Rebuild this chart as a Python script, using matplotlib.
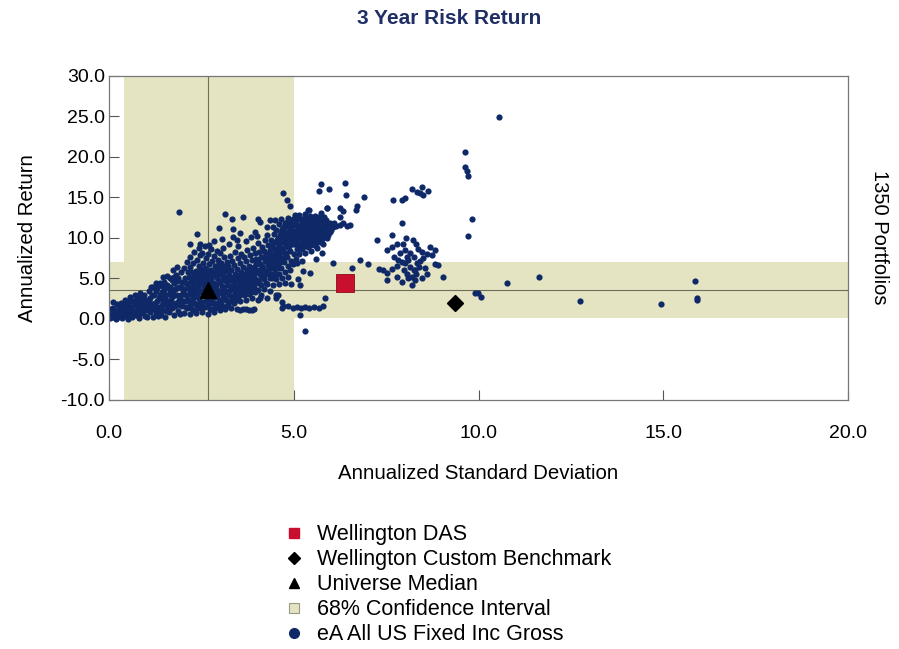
import numpy as np
import matplotlib
matplotlib.use("Agg")
import matplotlib.pyplot as plt
from matplotlib.lines import Line2D

plt.rcParams['font.family'] = ['Liberation Sans', 'DejaVu Sans']

# universe scatter (std dev, return)
low_risk = [
    (0.02, 0.1), (0.05, 0.5), (0.08, 0.9), (0.1, 0.2), (0.12, 1.4), (0.15, 0.6), (0.18, 0.0), (0.2, 1.0),
    (0.22, 1.8), (0.25, 0.3), (0.28, 0.7), (0.3, 1.3), (0.33, 2.0), (0.35, 0.1), (0.38, 0.9), (0.4, 1.6),
    (0.42, 2.4), (0.45, 0.4), (0.48, 1.2), (0.5, 2.0), (0.52, 0.0), (0.55, 0.8), (0.57, 2.7), (0.6, 1.5),
    (0.62, 0.3), (0.65, 2.2), (0.68, 1.0), (0.7, 3.0), (0.72, 0.5), (0.75, 1.8), (0.78, 2.6), (0.8, 0.1),
    (0.82, 1.3), (0.85, 3.2), (0.87, 0.7), (0.9, 2.2), (0.92, 1.6), (0.95, 2.9), (0.97, 0.4), (1.0, 1.1),
    (0.1, 2.1), (0.03, 1.2),
    (1.02, 0.3), (1.05, 1.9), (1.08, 3.5), (1.1, 0.9), (1.12, 2.6), (1.15, 1.4), (1.18, 4.0), (1.2, 0.2),
    (1.22, 3.0), (1.25, 2.0), (1.27, 0.8), (1.3, 3.8), (1.32, 1.5), (1.35, 2.6), (1.37, 4.4), (1.4, 0.5),
    (1.42, 3.3), (1.45, 1.1), (1.47, 2.1), (1.5, 4.6), (1.52, 0.3), (1.55, 2.9), (1.57, 1.7), (1.6, 3.9),
    (1.62, 0.9), (1.65, 5.0), (1.67, 2.4), (1.7, 1.3), (1.72, 3.4), (1.75, 4.4), (1.77, 0.5), (1.8, 2.0),
    (1.82, 5.4), (1.85, 3.0), (1.87, 1.0), (1.9, 4.0), (1.92, 2.5), (1.95, 5.8), (1.97, 1.6), (2.0, 3.5),
    (1.03, 2.4), (1.13, 3.9), (1.23, 1.2), (1.33, 0.4), (1.43, 4.1), (1.53, 1.0), (1.63, 2.0), (1.73, 6.0),
    (1.83, 4.7), (1.93, 0.6), (1.58, 5.3), (1.48, 3.6), (1.38, 2.9), (1.28, 4.5), (1.68, 3.0), (1.78, 3.7),
    (1.88, 2.3), (1.98, 4.6), (1.46, 5.2), (1.85, 6.4), (1.89, 13.2),
    (0.06, 0.3), (0.14, 1.0), (0.21, 0.5), (0.27, 1.5), (0.32, 0.6), (0.37, 1.2), (0.44, 1.8), (0.47, 0.6),
    (0.53, 1.4), (0.58, 2.2), (0.63, 0.9), (0.67, 1.7), (0.73, 2.3), (0.77, 1.1), (0.81, 2.0), (0.86, 1.5),
    (0.89, 2.7), (0.93, 1.0), (0.98, 2.4), (0.96, 1.9),
    (1.06, 1.3), (1.11, 2.0), (1.16, 2.9), (1.21, 1.7), (1.26, 3.4), (1.31, 2.2), (1.36, 1.0), (1.41, 2.6),
    (1.44, 1.7), (1.49, 3.0), (1.54, 2.3), (1.59, 1.3), (1.64, 3.3), (1.69, 2.0), (1.74, 2.8), (1.79, 1.6),
    (1.84, 3.8), (1.89, 1.7), (1.94, 3.0), (1.99, 2.2), (1.56, 4.2), (1.71, 4.8), (1.86, 5.0), (1.96, 3.9),
    (1.66, 4.0), (1.76, 5.2),
]

mid_risk = [
    (2.03, 0.8), (2.05, 2.2), (2.04, 3.7), (2.06, 5.1), (2.02, 6.3),
    (2.1, 1.4), (2.12, 2.9), (2.11, 4.3), (2.13, 5.8), (2.1, 7.0),
    (2.18, 0.6), (2.2, 2.0), (2.19, 3.4), (2.21, 4.8), (2.18, 6.4), (2.2, 7.6),
    (2.27, 1.1), (2.28, 2.6), (2.26, 4.0), (2.29, 5.3), (2.27, 6.9), (2.3, 8.3),
    (2.35, 0.7), (2.36, 1.9), (2.34, 3.2), (2.37, 4.6), (2.35, 5.9), (2.38, 7.3),
    (2.43, 1.3), (2.44, 2.5), (2.42, 3.9), (2.45, 5.2), (2.43, 6.5), (2.46, 7.9), (2.44, 8.8),
    (2.51, 0.9), (2.52, 2.1), (2.5, 3.3), (2.53, 4.5), (2.51, 5.7), (2.54, 6.9), (2.52, 8.2),
    (2.59, 1.5), (2.6, 2.8), (2.58, 4.0), (2.61, 5.2), (2.59, 6.3), (2.62, 7.5), (2.6, 9.0),
    (2.67, 0.6), (2.68, 1.9), (2.66, 3.1), (2.69, 4.4), (2.67, 5.6), (2.7, 6.8), (2.68, 8.0),
    (2.75, 1.2), (2.76, 2.4), (2.74, 3.7), (2.77, 4.9), (2.75, 6.1), (2.78, 7.2), (2.76, 8.6),
    (2.83, 0.9), (2.84, 2.0), (2.82, 3.2), (2.85, 4.3), (2.83, 5.5), (2.86, 6.6), (2.84, 7.8),
    (2.91, 1.5), (2.92, 2.7), (2.9, 3.8), (2.93, 5.0), (2.91, 6.1), (2.94, 7.3), (2.92, 8.4),
    (2.99, 1.1), (3.0, 2.3), (2.98, 3.5), (3.01, 4.6), (2.99, 5.8), (3.02, 6.9), (3.0, 8.1),
    (3.07, 1.6), (3.08, 2.9), (3.06, 4.1), (3.09, 5.3), (3.07, 6.4), (3.1, 7.6), (3.08, 8.8),
    (3.15, 1.2), (3.16, 2.3), (3.14, 3.5), (3.17, 4.7), (3.15, 5.9), (3.18, 7.0),
    (3.23, 1.8), (3.24, 3.0), (3.22, 4.2), (3.25, 5.4), (3.23, 6.5), (3.26, 7.8), (3.24, 9.3),
    (3.31, 1.4), (3.32, 2.5), (3.3, 3.7), (3.33, 4.8), (3.31, 6.0), (3.34, 7.2),
    (3.39, 2.0), (3.4, 3.2), (3.38, 4.4), (3.41, 5.6), (3.39, 6.7), (3.42, 8.3),
    (3.47, 1.2), (3.48, 2.7), (3.46, 3.9), (3.49, 5.1), (3.47, 6.2), (3.5, 7.5), (3.48, 9.0),
    (3.55, 2.2), (3.56, 3.4), (3.54, 4.6), (3.57, 5.8), (3.55, 6.9), (3.58, 8.0), (3.55, 1.1),
    (3.63, 1.2), (3.64, 2.9), (3.62, 4.1), (3.65, 5.3), (3.63, 6.4), (3.66, 7.6),
    (3.71, 2.4), (3.72, 3.6), (3.7, 4.8), (3.73, 6.0), (3.71, 7.1), (3.74, 8.5), (3.71, 1.2),
    (3.79, 1.1), (3.8, 3.1), (3.78, 4.3), (3.81, 5.5), (3.79, 6.6), (3.82, 7.9),
    (3.87, 2.6), (3.88, 3.8), (3.86, 5.0), (3.89, 6.2), (3.87, 7.3), (3.9, 8.8), (3.86, 1.1),
    (3.95, 3.3), (3.96, 4.5), (3.94, 5.7), (3.97, 6.8), (3.95, 8.1), (3.93, 1.2),
    (2.38, 10.5), (2.2, 9.2), (2.46, 9.3), (2.7, 9.1), (2.98, 11.2), (3.14, 13.0), (3.32, 12.4),
    (3.63, 12.6), (3.36, 11.1), (3.54, 10.6), (3.35, 10.1), (3.45, 9.75), (3.05, 9.9), (3.7, 9.6),
    (3.85, 10.1), (2.85, 9.6),
    (2.07, 1.5), (2.08, 3.0), (2.09, 4.5), (2.15, 2.3), (2.16, 3.8), (2.16, 5.2), (2.23, 1.4), (2.24, 2.9),
    (2.24, 4.4), (2.25, 5.8), (2.31, 2.0), (2.32, 3.5), (2.33, 4.9), (2.39, 1.3), (2.4, 2.7), (2.4, 4.2),
    (2.41, 5.5), (2.47, 2.0), (2.48, 3.4), (2.48, 4.8), (2.49, 6.2), (2.55, 1.5), (2.56, 2.9), (2.56, 4.2),
    (2.57, 5.6), (2.63, 2.2), (2.64, 3.5), (2.64, 4.8), (2.65, 6.0), (2.72, 1.2), (2.72, 2.8), (2.73, 4.2),
    (2.73, 5.4), (2.79, 2.0), (2.8, 3.3), (2.8, 4.5), (2.81, 5.8), (2.87, 1.4), (2.88, 2.7), (2.88, 4.0),
    (2.89, 5.3), (2.95, 2.0), (2.96, 3.2), (2.96, 4.4), (2.97, 5.5), (2.96, 6.7),
    (3.04, 2.0), (3.04, 3.4), (3.05, 4.8), (3.05, 6.0), (3.12, 2.6), (3.12, 4.0), (3.13, 5.2), (3.13, 6.6),
    (3.2, 1.6), (3.2, 3.3), (3.21, 4.8), (3.21, 6.0), (3.28, 2.2), (3.28, 3.6), (3.29, 4.9), (3.36, 2.8),
    (3.36, 4.2), (3.37, 5.2), (3.44, 2.3), (3.44, 3.6), (3.45, 4.8), (3.52, 3.0), (3.52, 4.1), (3.53, 5.4),
    (3.6, 3.6), (3.61, 4.8), (3.68, 3.1), (3.68, 4.3), (3.69, 5.6), (3.76, 3.8), (3.77, 5.0), (3.84, 3.3),
    (3.85, 4.6), (3.85, 5.8), (3.92, 4.0), (3.93, 5.2), (3.93, 6.4), (3.99, 4.8), (3.99, 6.0), (3.98, 7.4),
]

upper_risk = [
    (4.03, 2.3), (4.04, 3.6), (4.02, 4.8), (4.05, 6.0), (4.03, 7.1), (4.06, 8.3), (4.04, 9.4),
    (4.11, 3.0), (4.12, 4.2), (4.1, 5.4), (4.13, 6.6), (4.11, 7.7), (4.14, 8.9),
    (4.19, 3.7), (4.2, 4.9), (4.18, 6.1), (4.21, 7.2), (4.19, 8.4), (4.22, 9.7),
    (4.27, 2.6), (4.28, 4.3), (4.26, 5.5), (4.29, 6.7), (4.27, 7.8), (4.3, 9.1), (4.28, 10.4),
    (4.35, 3.5), (4.36, 5.0), (4.34, 6.2), (4.37, 7.3), (4.35, 8.5), (4.38, 9.8),
    (4.43, 4.2), (4.44, 5.6), (4.42, 6.8), (4.45, 7.9), (4.43, 9.2), (4.46, 10.5), (4.44, 11.4),
    (4.51, 3.0), (4.52, 4.9), (4.5, 6.2), (4.53, 7.4), (4.51, 8.6), (4.54, 9.8), (4.52, 11.0),
    (4.59, 4.3), (4.6, 5.6), (4.58, 6.8), (4.61, 8.0), (4.59, 9.2), (4.62, 10.4), (4.6, 11.7),
    (4.67, 2.1), (4.68, 5.0), (4.66, 6.3), (4.69, 7.5), (4.67, 8.7), (4.7, 9.9), (4.68, 11.1), (4.66, 12.3),
    (4.75, 4.5), (4.76, 5.8), (4.74, 7.0), (4.77, 8.2), (4.75, 9.4), (4.78, 10.6), (4.76, 11.8),
    (4.83, 5.2), (4.84, 6.5), (4.82, 7.7), (4.85, 8.9), (4.83, 10.1), (4.86, 11.3), (4.84, 12.5),
    (4.91, 6.0), (4.92, 7.2), (4.9, 8.4), (4.93, 9.6), (4.91, 10.8), (4.94, 12.0), (4.92, 4.3),
    (4.99, 6.8), (5.0, 8.0), (4.98, 9.2), (5.01, 10.4), (4.99, 11.6), (5.02, 12.8),
    (4.04, 12.4), (4.08, 12.0), (4.36, 12.2), (4.49, 12.2), (4.27, 11.4), (3.95, 10.8), (4.0, 10.2),
    (4.08, 2.6), (4.53, 2.6), (4.58, 3.0), (4.67, 1.3),
    (4.07, 4.4), (4.08, 5.6), (4.08, 6.8), (4.16, 5.0), (4.16, 6.3), (4.17, 7.6), (4.24, 4.5), (4.24, 5.9),
    (4.25, 7.1), (4.25, 8.0), (4.32, 5.6), (4.32, 6.9), (4.33, 8.0), (4.4, 5.1), (4.4, 6.3), (4.41, 7.5),
    (4.41, 8.8), (4.48, 5.5), (4.48, 6.8), (4.49, 8.1), (4.49, 9.5), (4.56, 6.3), (4.56, 7.6), (4.57, 8.8),
    (4.57, 10.0), (4.64, 7.0), (4.64, 8.3), (4.65, 9.5), (4.65, 10.8), (4.72, 7.5), (4.72, 8.8), (4.73, 10.1),
    (4.73, 11.4), (4.8, 8.2), (4.8, 9.5), (4.81, 10.7), (4.81, 12.0), (4.88, 9.0), (4.88, 10.3), (4.89, 11.6),
    (4.96, 9.8), (4.96, 11.0), (4.97, 12.3),
    (5.07, 7.4), (5.08, 8.6), (5.06, 9.8), (5.09, 11.0), (5.07, 12.2),
    (5.15, 8.0), (5.16, 9.2), (5.14, 10.4), (5.17, 11.6), (5.15, 12.8),
    (5.23, 8.7), (5.24, 9.9), (5.22, 11.1), (5.25, 12.3), (5.23, 7.2),
    (5.31, 8.2), (5.32, 9.4), (5.3, 10.6), (5.33, 11.8), (5.31, 13.0),
    (5.39, 8.9), (5.4, 10.1), (5.38, 11.3), (5.41, 12.5), (5.39, 13.5),
    (5.47, 8.4), (5.48, 9.6), (5.46, 10.8), (5.49, 12.0),
    (5.55, 9.1), (5.56, 10.3), (5.54, 11.5), (5.57, 12.7),
    (5.63, 8.8), (5.64, 10.0), (5.62, 11.2), (5.65, 12.3),
    (5.71, 9.5), (5.72, 10.7), (5.7, 11.9), (5.73, 13.1),
    (5.79, 9.2), (5.8, 10.4), (5.78, 11.6), (5.81, 12.6),
    (5.89, 10.0), (5.9, 11.2), (5.88, 12.2), (5.89, 13.7),
    (5.98, 10.7), (5.99, 11.8), (6.07, 11.4), (6.15, 11.5), (6.25, 11.6), (6.33, 11.9),
    (6.44, 11.5), (6.52, 11.6), (6.25, 12.6),
    (5.04, 9.2), (5.04, 10.5), (5.05, 11.6), (5.12, 8.8), (5.12, 10.0), (5.13, 11.2), (5.13, 12.4),
    (5.2, 9.4), (5.2, 10.6), (5.21, 11.8), (5.28, 9.0), (5.28, 10.2), (5.29, 11.4), (5.29, 12.6),
    (5.36, 9.6), (5.36, 10.8), (5.37, 12.0), (5.44, 9.1), (5.44, 10.3), (5.45, 11.5), (5.45, 12.7),
    (5.52, 9.8), (5.52, 11.0), (5.53, 12.2), (5.6, 9.4), (5.6, 10.6), (5.61, 11.8), (5.68, 10.2),
    (5.68, 11.4), (5.69, 12.6), (5.76, 9.9), (5.76, 11.1), (5.77, 12.2), (5.84, 10.6), (5.84, 11.8),
    (5.93, 10.4), (5.94, 11.5), (6.02, 11.0), (6.1, 11.9),
    (5.08, 6.9), (5.26, 5.9), (5.44, 5.7), (5.12, 4.9), (5.17, 4.2), (5.6, 7.4), (5.75, 8.1),
    (6.05, 6.9), (6.57, 6.3), (6.79, 7.3), (7.02, 6.8),
    (4.85, 1.6), (4.98, 1.4), (5.1, 1.5), (5.2, 1.3), (5.3, 1.5), (5.42, 1.4), (5.55, 1.5),
    (5.68, 1.4), (5.8, 1.6), (5.85, 2.6), (5.17, 0.5), (5.3, -1.5), (4.7, 1.6),
    (4.72, 15.6), (4.81, 14.7), (4.9, 13.9), (5.74, 16.7), (5.94, 16.0), (5.67, 15.8),
    (6.39, 16.8), (6.4, 15.3), (6.91, 15.1), (6.72, 14.0), (6.68, 13.5), (6.25, 13.7),
    (6.32, 13.3), (5.42, 13.5), (5.89, 13.7),
]

high_risk = [
    (7.24, 9.75), (7.65, 10.4), (7.94, 11.8), (7.68, 14.7), (7.92, 14.7), (8.01, 14.9), (8.19, 16.0),
    (8.33, 15.7), (8.46, 16.3), (8.51, 15.3), (8.64, 15.8), (8.42, 15.5),
    (7.51, 8.5), (7.65, 8.9), (7.78, 9.3), (7.96, 9.3), (8.05, 10.0), (8.23, 9.75), (8.32, 9.2),
    (8.69, 8.9), (8.83, 8.5), (8.46, 8.3), (8.6, 8.0), (8.73, 7.9), (8.51, 7.5), (8.82, 6.8),
    (8.91, 6.7), (9.05, 5.2), (7.42, 6.0), (7.51, 5.7), (7.51, 4.8), (7.78, 5.2), (7.92, 4.6),
    (8.19, 4.2), (8.28, 4.8), (8.46, 5.0), (7.87, 8.1), (7.83, 7.3), (7.78, 6.5),
    (8.06, 7.7), (8.1, 7.3), (8.14, 6.4), (8.24, 6.0), (8.06, 5.6), (8.24, 7.7), (8.33, 6.9),
    (8.28, 6.0), (7.97, 6.0), (8.02, 6.9), (8.15, 8.1), (8.0, 8.5), (8.2, 5.2), (8.38, 6.4),
    (8.42, 7.1), (7.92, 7.0), (8.1, 5.0), (8.3, 5.5), (7.65, 6.2), (7.7, 7.6), (8.55, 6.3),
    (8.6, 5.6), (8.35, 8.6), (7.3, 6.2),
    (9.63, 20.6), (9.63, 18.8), (9.68, 18.3), (9.72, 17.7), (9.83, 12.3), (9.71, 10.2), (10.56, 24.9),
    (9.9, 3.2), (9.99, 3.2), (10.07, 2.7), (10.77, 4.4), (11.64, 5.2), (12.75, 2.2), (14.94, 1.85),
    (15.86, 4.7), (15.91, 2.6), (15.91, 2.3),
]

fund = (6.38, 4.5)          # Wellington DAS
benchmark = (9.36, 2.0)     # Wellington Custom Benchmark
median = (2.68, 3.6)        # Universe Median
ci_x = (0.4, 5.0)           # 68% confidence interval, std dev
ci_y = (0.1, 7.0)           # 68% confidence interval, return

navy = '#0E2868'
band = '#E4E4C2'

universe = np.array(low_risk + mid_risk + upper_risk + high_risk)

fig = plt.figure(figsize=(8.99, 6.49), dpi=100)
ax = fig.add_axes([0.1213, 0.3837, 0.822, 0.4992])

ax.axvspan(*ci_x, color=band, lw=0, zorder=0)
ax.axhspan(*ci_y, color=band, lw=0, zorder=0)
ax.axvline(median[0], color='#6E6E5A', lw=0.8, zorder=1)
ax.axhline(median[1], color='#6E6E5A', lw=0.8, zorder=1)

ax.scatter(universe[:, 0], universe[:, 1], s=20, color=navy, linewidths=0, zorder=2)
ax.plot(*fund, marker='s', ms=13, color='#C8102E', mec='#8A0A1E', mew=0.6, zorder=4)
ax.plot(*benchmark, marker='D', ms=8, color='black', zorder=4)
ax.plot(*median, marker='^', ms=11, color='black', zorder=4)

ax.set_xlim(0, 20)
ax.set_ylim(-10, 30)
ax.set_xticks(np.arange(0, 21, 5))
ax.set_yticks(np.arange(-10, 31, 5))
ax.xaxis.set_major_formatter(lambda v, p: f"{v:.1f}")
ax.yaxis.set_major_formatter(lambda v, p: f"{v:.1f}")
ax.tick_params(direction='in', length=7, width=0.8, color='#555555', labelsize=14)
ax.tick_params(axis='x', pad=18)
ax.tick_params(axis='y', pad=3)
for s in ax.spines.values():
    s.set_color('#777777')
    s.set_linewidth(0.9)

ax.set_xlabel('Annualized Standard Deviation', fontsize=14.7, labelpad=16)
ax.set_ylabel('Annualized Return', fontsize=14.7, labelpad=17)
fig.text(0.978, 0.635, '1350 Portfolios', rotation=270, fontsize=14.5, ha='center', va='center')
fig.text(0.5, 0.972, '3 Year Risk Return', fontsize=15, fontweight='bold', color='#1F2F66',
         ha='center', va='center')

handles = [
    Line2D([], [], ls='', marker='s', ms=7, color='#C8102E'),
    Line2D([], [], ls='', marker='D', ms=6, color='black'),
    Line2D([], [], ls='', marker='^', ms=7, color='black'),
    Line2D([], [], ls='', marker='s', ms=7, mfc=band, mec='#999988', mew=0.8),
    Line2D([], [], ls='', marker='o', ms=7, color=navy),
]
labels = ['Wellington DAS', 'Wellington Custom Benchmark', 'Universe Median',
          '68% Confidence Interval', 'eA All US Fixed Inc Gross']
fig.legend(handles, labels, loc='upper left', bbox_to_anchor=(0.3026, 0.209),
           frameon=False, fontsize=15.5, handlelength=1.0, handletextpad=0.6,
           labelspacing=0.19, borderpad=0)

fig.savefig('out.png', dpi=100)
